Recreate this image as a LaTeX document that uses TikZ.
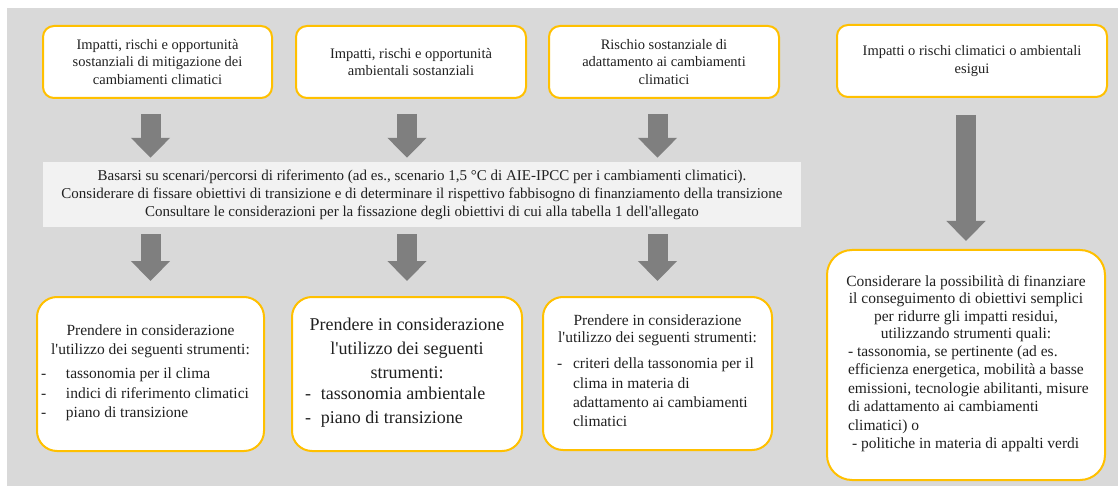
\documentclass[tikz,border=0pt]{standalone}
\usepackage{fontspec}
\setmainfont{Liberation Serif}
\usetikzlibrary{positioning, arrows.meta}

\definecolor{bggray}{HTML}{D9D9D9}
\definecolor{bandgray}{HTML}{F2F2F2}
\definecolor{boxyellow}{HTML}{FFC000}
\definecolor{arrowgray}{HTML}{7F7F7F}
\definecolor{txtgray}{HTML}{202020}

\newcommand{\topfont}{\fontsize{14.5}{17.5}\selectfont}
\newcommand{\bandfont}{\fontsize{15}{18}\selectfont}
\newcommand{\toolfont}{\fontsize{15.5}{17.5}\selectfont}
\newcommand{\bigtoolfont}{\fontsize{18}{24}\selectfont}
\newcommand{\apo}{\textquotesingle}
% #1 list width, #2 dash column, #3 row stretch, #4 rows
\newcommand{\dashlist}[4]{\makebox[#1][l]{\renewcommand{\arraystretch}{#3}\begin{tabular}{@{}p{#2}@{}l@{}}#4\end{tabular}}}

\tikzset{
  box/.style={draw=boxyellow, line width=2pt, fill=white, align=center, text=txtgray, inner sep=0pt},
  topbox/.style={box, rounded corners=11pt, minimum height=72pt, font=\topfont},
  toolbox/.style={box, rounded corners=20pt, minimum height=154pt, minimum width=229pt, font=\toolfont},
  bigarrow/.style={arrowgray, line width=20pt, -{Triangle[width=38pt,length=20pt]}},
}

\begin{document}
\begin{tikzpicture}[x=1pt, y=-1pt]

\useasboundingbox (0,0) rectangle (1118,486);
\fill[bggray] (7,8) rectangle (1118,486);

% upper row
\node[topbox, minimum width=229pt] (top1) at (157.5,62) {Impatti, rischi e opportunità\\ sostanziali di mitigazione dei\\ cambiamenti climatici};
\node[topbox, minimum width=230pt] (top2) at (411,62) {Impatti, rischi e opportunità\\ ambientali sostanziali};
\node[topbox, minimum width=230pt] (top3) at (664,62) {Rischio sostanziale di\\ adattamento ai cambiamenti\\ climatici};
\node[topbox, minimum width=270pt] (top4) at (972,61) {Impatti o rischi climatici o ambientali\\ esigui};

\node[fill=bandgray, text=txtgray, font=\bandfont, align=center, minimum width=758pt, minimum height=65pt, inner sep=0pt] (band) at (422,194.5)
  {Basarsi su scenari/percorsi di riferimento (ad es., scenario 1,5 °C di AIE-IPCC per i cambiamenti climatici).\\
   Considerare di fissare obiettivi di transizione e di determinare il rispettivo fabbisogno di finanziamento della transizione\\
   Consultare le considerazioni per la fissazione degli obiettivi di cui alla tabella 1 dell\apo allegato};

% lower row
\node[toolbox, minimum width=227pt, font=\fontsize{15.5}{19.5}\selectfont] (bot1) at (150.5,374) {Prendere in considerazione\\ l\apo utilizzo dei seguenti strumenti:\\[6pt]
  \dashlist{219pt}{25pt}{1}{- & tassonomia per il clima\\ - & indici di riferimento climatici\\ - & piano di transizione}};
\node[toolbox, minimum width=230pt, font=\bigtoolfont] (bot2) at (407,374) {Prendere in considerazione\\ l\apo utilizzo dei seguenti\\ strumenti:\\[3pt]
  \dashlist{204pt}{16pt}{1}{- & tassonomia ambientale\\ - & piano di transizione}};
\node[toolbox, minimum height=153pt] (bot3) at (657.5,373.5) {Prendere in considerazione\\ l\apo utilizzo dei seguenti strumenti:\\[8pt]
  \dashlist{201pt}{16pt}{1.1}{- & criteri della tassonomia per il\\ & clima in materia di\\ & adattamento ai cambiamenti\\ & climatici}};
\node[toolbox, rounded corners=25pt, minimum width=278pt, minimum height=230pt] (bot4) at (966,365) {Considerare la possibilità di finanziare\\ il conseguimento di obiettivi semplici\\ per ridurre gli impatti residui,\\ utilizzando strumenti quali:\\
  \dashlist{236pt}{0pt}{1.06}{& - tassonomia, se pertinente (ad es.\\ & efficienza energetica, mobilità a basse\\ & emissioni, tecnologie abilitanti, misure\\ & di adattamento ai cambiamenti\\ & climatici) o\\ & \hspace*{4pt}- politiche in materia di appalti verdi}};

% arrows
\draw[bigarrow, shorten <=15pt, shorten >=4pt] (bot1.north |- top1.south) -- (bot1.north |- band.north);
\draw[bigarrow, shorten <=15pt, shorten >=4pt] (bot2.north |- top2.south) -- (bot2.north |- band.north);
\draw[bigarrow, shorten <=15pt, shorten >=4pt] (bot3.north |- top3.south) -- (bot3.north |- band.north);
\draw[bigarrow, shorten <=7pt, shorten >=15pt] (bot1.north |- band.south) -- (bot1.north);
\draw[bigarrow, shorten <=7pt, shorten >=15pt] (bot2.north |- band.south) -- (bot2.north);
\draw[bigarrow, shorten <=7pt, shorten >=15pt] (bot3.north |- band.south) -- (bot3.north);
\draw[bigarrow, shorten <=17pt, shorten >=8pt] (bot4.north |- top4.south) -- (bot4.north);

\end{tikzpicture}
\end{document}
